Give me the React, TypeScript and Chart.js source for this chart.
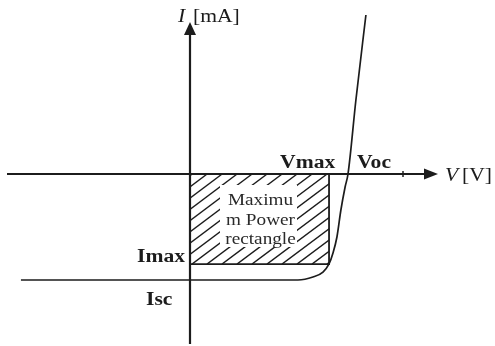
import React, { useEffect, useRef } from "react";
import { Chart, registerables } from "chart.js";

Chart.register(...registerables);

// ---- data (V in volts, I in mA) ----
const curveV = [-0.642, -0.3, 0.0, 0.2, 0.41, 0.467, 0.505, 0.528, 0.543, 0.558, 0.573, 0.589, 0.6, 0.63, 0.668];
const curveI = [-3.0, -3.0, -3.0, -3.0, -3.0, -2.915, -2.774, -2.547, -2.236, -1.783, -1.019, -0.368, 0, 2.094, 4.5];
const V_MAX = 0.528;
const I_MAX = -2.55;
const V_OC = 0.6;
const I_SC = -3.0;
const rectLines = ["Maximu", "m Power", "rectangle"];
const labelVmax = "Vmax";
const labelVoc = "Voc";
const labelImax = "Imax";
const labelIsc = "Isc";
const axisX = { sym: "V", unit: "[V]" };
const axisY = { sym: "I", unit: "[mA]" };

const W = 495;
const H = 346;
const PX_PER_V = 790 / 3;
const PX_PER_MA = 106 / 3;
const ORIGIN_PX = 190;
const ORIGIN_PY = 174;

const INK = "#1c1c1c";
const SERIF = "'Liberation Serif', 'DejaVu Serif', serif";

function stretchedText(ctx: CanvasRenderingContext2D, text: string, x: number, y: number, font: string, align: "left" | "center" = "left") {
  ctx.save();
  ctx.font = font;
  ctx.textBaseline = "alphabetic";
  ctx.textAlign = align;
  ctx.translate(x, y);
  ctx.scale(1.2, 1);
  ctx.fillText(text, 0, 0);
  ctx.restore();
}

const diagramPlugin = {
  id: "diagram",
  beforeDatasetsDraw(chart: any) {
    const ctx: CanvasRenderingContext2D = chart.ctx;
    const xs = chart.scales.x;
    const ys = chart.scales.y;
    const ox = xs.getPixelForValue(0);
    const oy = ys.getPixelForValue(0);
    const rx = xs.getPixelForValue(V_MAX);
    const ry = ys.getPixelForValue(I_MAX);
    const vocX = xs.getPixelForValue(V_OC);
    const iscY = ys.getPixelForValue(I_SC);

    ctx.save();
    // hatching
    ctx.save();
    ctx.beginPath();
    ctx.rect(ox, oy, rx - ox, ry - oy);
    ctx.clip();
    ctx.strokeStyle = INK;
    ctx.lineWidth = 1.4;
    const h = ry - oy;
    for (let k = -12; k < 20; k++) {
      const x0 = ox + 2 + k * 15;
      ctx.beginPath();
      ctx.moveTo(x0, ry);
      ctx.lineTo(x0 + h / 0.75, oy);
      ctx.stroke();
    }
    ctx.restore();
    // white text box
    ctx.fillStyle = "#ffffff";
    ctx.fillRect(ox + 30, oy + 11, 77, 62);
    ctx.fillStyle = "#2a2a2a";
    const cx = (ox + rx) / 2 + 1;
    rectLines.forEach((t, i) => {
      stretchedText(ctx, t, cx, oy + 31 + i * 19.5, `16px ${SERIF}`, "center");
    });
    // rectangle border
    ctx.strokeStyle = INK;
    ctx.lineWidth = 1.8;
    ctx.beginPath();
    ctx.moveTo(ox, ry);
    ctx.lineTo(rx, ry);
    ctx.lineTo(rx, oy);
    ctx.stroke();

    // axes
    ctx.lineWidth = 2.2;
    ctx.strokeStyle = INK;
    ctx.beginPath();
    ctx.moveTo(7, oy);
    ctx.lineTo(428, oy);
    ctx.stroke();
    ctx.beginPath();
    ctx.moveTo(ox, 344);
    ctx.lineTo(ox, 32);
    ctx.stroke();
    // small tick on x-axis
    ctx.lineWidth = 1.5;
    ctx.beginPath();
    ctx.moveTo(403, oy - 3);
    ctx.lineTo(403, oy + 3);
    ctx.stroke();
    // arrowheads
    ctx.fillStyle = INK;
    ctx.beginPath();
    ctx.moveTo(438, oy);
    ctx.lineTo(424, oy - 5.5);
    ctx.lineTo(424, oy + 5.5);
    ctx.closePath();
    ctx.fill();
    ctx.beginPath();
    ctx.moveTo(ox, 22);
    ctx.lineTo(ox - 6, 35);
    ctx.lineTo(ox + 6, 35);
    ctx.closePath();
    ctx.fill();

    // labels
    ctx.fillStyle = INK;
    const bold = `bold 18px ${SERIF}`;
    stretchedText(ctx, labelVmax, rx - 49, oy - 6, bold);
    stretchedText(ctx, labelVoc, vocX + 9, oy - 6, bold);
    stretchedText(ctx, labelImax, ox - 53, ry - 2, bold);
    stretchedText(ctx, labelIsc, ox - 44, iscY + 25, bold);
    stretchedText(ctx, axisY.sym, ox - 12, 22, `italic 18px ${SERIF}`);
    stretchedText(ctx, axisY.unit, ox + 3, 22, `18px ${SERIF}`);
    stretchedText(ctx, axisX.sym, 445, oy + 7, `italic 18px ${SERIF}`);
    stretchedText(ctx, axisX.unit, 462, oy + 7, `18px ${SERIF}`);
    ctx.restore();
  },
};

export default function App() {
  const ref = useRef<HTMLCanvasElement | null>(null);
  useEffect(() => {
    if (!ref.current) return;
    const points = curveV.map((v, i) => ({ x: v, y: curveI[i] }));
    const chart = new Chart(ref.current, {
      type: "scatter",
      data: {
        datasets: [
          {
            data: points,
            showLine: true,
            borderColor: INK,
            borderWidth: 1.7,
            pointRadius: 0,
            cubicInterpolationMode: "monotone",
            fill: false,
          } as any,
        ],
      },
      options: {
        responsive: false,
        animation: false,
        layout: { padding: 0 },
        plugins: { legend: { display: false }, tooltip: { enabled: false } },
        scales: {
          x: { type: "linear", display: false, min: -ORIGIN_PX / PX_PER_V, max: (W - ORIGIN_PX) / PX_PER_V },
          y: { type: "linear", display: false, min: -(H - ORIGIN_PY) / PX_PER_MA, max: ORIGIN_PY / PX_PER_MA },
        },
      },
      plugins: [diagramPlugin],
    });
    return () => chart.destroy();
  }, []);
  return (
    <div style={{ position: "fixed", left: 0, top: 0, width: W, height: H, background: "#fff" }}>
      <canvas ref={ref} width={W} height={H} style={{ width: W, height: H, display: "block" }} />
    </div>
  );
}
